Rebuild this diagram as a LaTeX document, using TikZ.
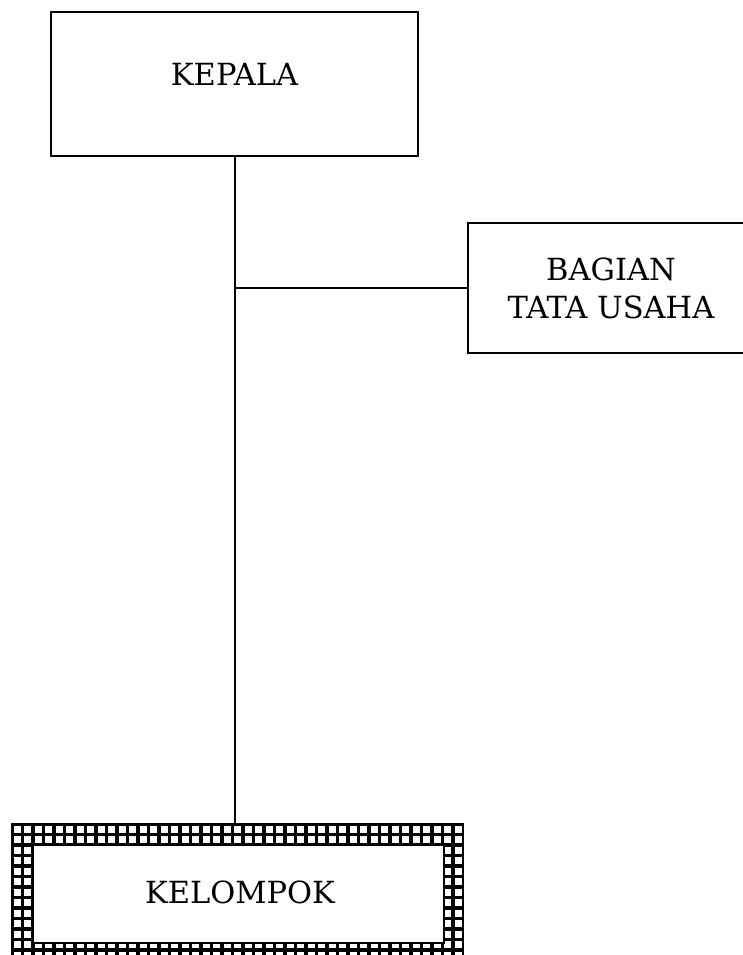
\documentclass[tikz,border=0pt]{standalone}
\usepackage{fontspec}
\setmainfont{DejaVu Serif}
\usetikzlibrary{positioning}

\begin{document}
\begin{tikzpicture}[
	x=1pt, y=-1pt,
	unit/.style={rectangle, draw=black, line width=2pt, fill=white, inner sep=0pt},
	caption/.style={font=\fontsize{30.5}{38}\selectfont, align=center, inner sep=0pt},
	link/.style={line width=2pt},
	mesh/.style={line width=3.2pt, black},
]
	\useasboundingbox (0,0) rectangle (742,955);

	% boxes
	\node[unit, minimum width=367pt, minimum height=144pt] (kepala) at (234.5,84) {};
	\node[caption] (kepalatext) at (234.5,74) {KEPALA};
	\node[unit, minimum width=290pt, minimum height=130pt] (tatausaha) at (613,288) {};
	\node[caption] (tatausahatext) at (611,288) {BAGIAN\\TATA USAHA};

	% kelompok with hatched frame
	\begin{scope}[even odd rule]
		\clip (12,824) rectangle (463,964) (33,845) rectangle (444,943);
		\fill[white] (12,824) rectangle (463,964);
		\foreach \i in {0,...,43}
			\draw[mesh] (12+\i*10.5,820) -- (12+\i*10.5,968);
		\foreach \j in {0,...,13}
			\draw[mesh] (8,824+\j*10.5) -- (467,824+\j*10.5);
	\end{scope}
	\node[unit, fill=none, minimum width=451pt, minimum height=140pt] (kelompok) at (237.5,894) {};
	\node[unit, fill=none, minimum width=411pt, minimum height=98pt] (kelompokin) at (238.5,894) {};
	\node[caption] (kelompoktext) at (240,892) {KELOMPOK};

	% connectors
	\coordinate (join) at (kepala.south |- tatausaha.west);
	\draw[link] (kepala.south) -- (kepala.south |- kelompok.north);
	\draw[link] (join) -- (tatausaha.west);
\end{tikzpicture}
\end{document}
